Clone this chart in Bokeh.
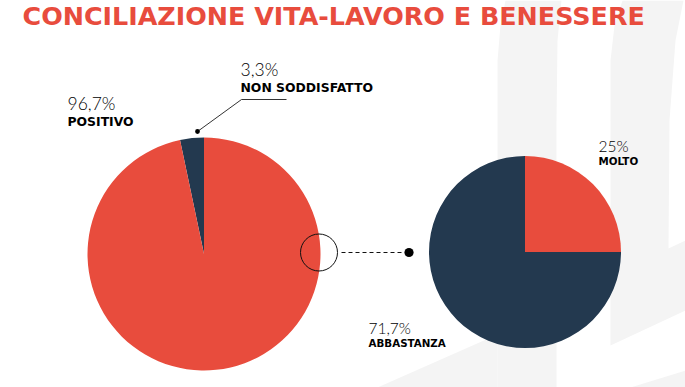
import math
from bokeh.plotting import figure
from bokeh.models import Range1d
from bokeh.core.properties import value
from bokeh.embed import file_html
from bokeh.resources import INLINE

# ---------------- data ----------------
title_text = "CONCILIAZIONE VITA-LAVORO E BENESSERE"

left_categories = ["NON SODDISFATTO", "POSITIVO"]
left_values = [3.3, 96.7]

right_categories = ["ABBASTANZA", "MOLTO"]
right_values = [71.7, 25.0]          # printed percentages
right_drawn_share = [75.0, 25.0]     # share of the breakdown pie as drawn

# ---------------- style ----------------
RED = "#e84c3d"
NAVY = "#23394f"
INK = "#000000"
GREY = "#f4f4f4"
BOLD_FONT = value("DejaVu Sans")
LIGHT_FONT = value("Lato Light")

W, H = 685, 387
BASE_SHIFT = 0.4  # em, compensates the renderer's baseline placement


def fmt(v):
    s = f"{v:.1f}"
    if s.endswith(".0"):
        s = s[:-2]
    return s.replace(".", ",") + "%"


def Y(y):
    # pixel row (from top) -> data y
    return H - y


def TY(y, fs):
    # baseline row for text of font size fs
    return H - y + BASE_SHIFT * fs


p = figure(width=W, height=H, x_range=Range1d(0, W), y_range=Range1d(0, H),
           output_backend="svg", toolbar_location=None, min_border=0)
p.axis.visible = False
p.grid.visible = False
p.outline_line_color = None
p.background_fill_color = "white"
p.border_fill_color = "white"

# ---------------- faint background watermark ----------------
wm_x = [
    [497, 497, 500, 505, 561, 557, 556, 556],
    [377, 497, 497],
    [610, 610, 614, 622, 683, 675, 669, 668, 685, 685],
    [630, 685, 685],
]
wm_y = [
    [387, 60, 25, 0, 0, 40, 120, 387],
    [387, 334, 387],
    [345, 60, 25, 0, 0, 40, 120, 248, 240, 310],
    [387, 370, 387],
]
p.patches([list(a) for a in wm_x], [[Y(v) for v in a] for a in wm_y],
          fill_color=GREY, line_color=None)


# ---------------- pies ----------------
def wedges(values, start_deg):
    total = sum(values)
    starts, ends = [], []
    a = math.radians(start_deg)
    for v in values:
        b = a + 2 * math.pi * v / total
        starts.append(a)
        ends.append(b)
        a = b
    return starts, ends

ls, le = wedges(left_values, 90)
p.wedge(x=[203.5] * 2, y=[Y(253.5)] * 2, radius=116.5, start_angle=ls, end_angle=le,
        direction="anticlock", fill_color=[NAVY, RED], line_color=None)

rs, re_ = wedges(right_drawn_share, 90)
p.wedge(x=[524.5] * 2, y=[Y(251.5)] * 2, radius=96, start_angle=rs, end_angle=re_,
        direction="anticlock", fill_color=[NAVY, RED], line_color=None)

# ---------------- connectors ----------------
p.circle(x=[318.5], y=[Y(252)], radius=18.5, fill_color=None, line_color="#111111", line_width=1)
p.line(x=[341, 403], y=[Y(252), Y(252)], line_color="#111111", line_width=1.2, line_dash="4 3")
p.circle(x=[408.5], y=[Y(252)], radius=4.6, fill_color="#000000", line_color=None)

p.line(x=[197, 241, 286], y=[Y(131), Y(99), Y(99)], line_color="#333333", line_width=1)
p.circle(x=[197], y=[Y(131)], radius=2.4, fill_color="#000000", line_color=None)

# ---------------- texts ----------------
FS_T, FS_PL, FS_BL, FS_PR, FS_BR = 25.4, 17.5, 12.4, 15.5, 10.3

p.text(x=[22], y=[TY(26, FS_T)], text=[title_text], text_font=BOLD_FONT, text_font_style="bold",
       text_font_size=f"{FS_T}px", text_color=RED, text_baseline="alphabetic", text_align="left")

# left pie labels: NON SODDISFATTO, POSITIVO
p.text(x=[240, 67], y=[TY(76, FS_PL), TY(110, FS_PL)], text=[fmt(v) for v in left_values],
       text_font=LIGHT_FONT, text_font_size=f"{FS_PL}px", text_color=INK,
       text_baseline="alphabetic", text_align="left")
p.text(x=[240, 67], y=[TY(92, FS_BL), TY(126, FS_BL)], text=left_categories,
       text_font=BOLD_FONT, text_font_style="bold", text_font_size=f"{FS_BL}px", text_color=INK,
       text_baseline="alphabetic", text_align="left")

# right pie labels: ABBASTANZA, MOLTO
p.text(x=[368, 598], y=[TY(334, FS_PR), TY(152, FS_PR)], text=[fmt(v) for v in right_values],
       text_font=LIGHT_FONT, text_font_size=f"{FS_PR}px", text_color=INK,
       text_baseline="alphabetic", text_align="left")
p.text(x=[368, 598], y=[TY(347, FS_BR), TY(165, FS_BR)], text=right_categories,
       text_font=BOLD_FONT, text_font_style="bold", text_font_size=f"{FS_BR}px", text_color=INK,
       text_baseline="alphabetic", text_align="left")

open("out.html", "w").write(file_html(p, INLINE))
